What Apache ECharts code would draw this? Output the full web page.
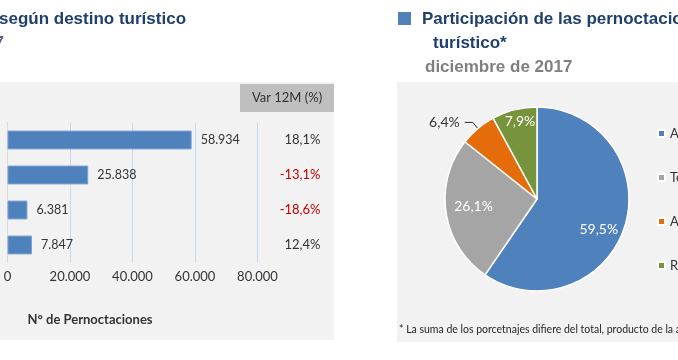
<!DOCTYPE html>
<html><head><meta charset="utf-8">
<script src="https://cdn.jsdelivr.net/npm/echarts@6/dist/echarts.min.js"></script>
<style>html,body{margin:0;padding:0;background:#fff}#c{width:678px;height:360px}</style>
</head><body><div id="c"></div>
<script>
// ---- data ----
const destinos = ["Araucanía Lacustre", "Temuco", "Araucanía Andina", "Resto de la región"];
const pernoctaciones = [58934, 25838, 6381, 7847];
const var12m = [18.1, -13.1, -18.6, 12.4];
const xTicks = [0, 20000, 40000, 60000, 80000];
const participacion = [59.5, 26.1, 6.4, 7.9];
const pieColors = ["#4f81bd", "#a5a5a5", "#e46c0a", "#77933c"];

const NUM_FONT = "Lato, 'Open Sans', sans-serif";
const TITLE_FONT = "'Liberation Sans', Arial, sans-serif";
const fmtThousands = v => String(v).replace(/\B(?=(\d{3})+(?!\d))/g, ".");
const fmtPct = v => v.toFixed(1).replace(".", ",") + "%";

const chart = echarts.init(document.getElementById("c"), null, {renderer: "canvas"});

// per-slice label tweaks (style only)
const pieLabelStyle = [
  {position: "inside", offset: [15, 16]},
  {position: "inside", offset: [-15, 0]},
  {position: "outside", color: "#333333", offset: [0, 0]},
  {position: "inside", offset: [-5, -30]}
];

const option = {
  animation: false,
  backgroundColor: "#ffffff",
  graphic: [
    // panels
    {type: "rect", left: 0, top: 82, shape: {width: 334, height: 258}, style: {fill: "#f2f2f2"}, z: -10},
    {type: "rect", left: 397, top: 82, shape: {width: 290, height: 260}, style: {fill: "#f2f2f2"}, z: -10},
    {type: "rect", left: 240, top: 84, shape: {width: 94, height: 28}, style: {fill: "#bfbfbf"}, z: -5},
    {type: "text", x: 287, y: 98, style: {text: "Var 12M (%)", font: "13px " + NUM_FONT, fill: "#333333", align: "center", verticalAlign: "middle"}},
    // left titles
    {type: "text", x: -1, y: 19, style: {text: "según destino turístico", font: "bold 17px " + TITLE_FONT, fill: "#1f3f6e", verticalAlign: "middle"}},
    {type: "text", x: 4, y: 43, style: {text: "diciembre de 2017", font: "bold 17px " + TITLE_FONT, fill: "#5a6478", align: "right", verticalAlign: "middle"}},
    {type: "text", x: 90, y: 320, style: {text: "N° de Pernoctaciones", font: "bold 13px " + NUM_FONT, fill: "#333333", align: "center", verticalAlign: "middle"}},
    // right titles
    {type: "rect", left: 398, top: 12, shape: {width: 13, height: 13}, style: {fill: "#4f81bd"}},
    {type: "text", x: 422, y: 19, style: {text: "Participación de las pernoctaciones según destino", font: "bold 17px " + TITLE_FONT, fill: "#1f3f6e", verticalAlign: "middle"}},
    {type: "text", x: 433, y: 43, style: {text: "turístico*", font: "bold 17px " + TITLE_FONT, fill: "#1f3f6e", verticalAlign: "middle"}},
    {type: "text", x: 425, y: 67, style: {text: "diciembre de 2017", font: "bold 17px " + TITLE_FONT, fill: "#7f7f7f", verticalAlign: "middle"}},
    {type: "text", x: 399, y: 330, style: {text: "* La suma de los porcetnajes difiere del total, producto de la aproximación de decimales", font: "10.5px " + NUM_FONT, fill: "#262626", verticalAlign: "middle"}}
  ],
  grid: [{left: 7.5, top: 122.5, width: 250, height: 140, containLabel: false}],
  xAxis: [{
    type: "value", min: xTicks[0], max: xTicks[xTicks.length - 1], interval: xTicks[1] - xTicks[0],
    axisLine: {show: false}, axisTick: {show: false},
    splitLine: {show: true, lineStyle: {color: "#c6d9f0", width: 1}},
    axisLabel: {margin: 8, color: "#333333", fontFamily: NUM_FONT, fontSize: 13, formatter: v => fmtThousands(v)}
  }],
  yAxis: [{
    type: "category", data: destinos, inverse: true,
    axisLine: {show: true, lineStyle: {color: "#d9d9d9"}}, axisTick: {show: false}, axisLabel: {show: false}
  }, {
    type: "category", data: var12m.map(fmtPct), inverse: true, position: "right",
    axisLine: {show: false}, axisTick: {show: false},
    axisLabel: {
      show: true, align: "right", margin: 63,
      formatter: (v, i) => (var12m[i] < 0 ? "{neg|" : "{pos|") + v + "}",
      rich: {
        neg: {color: "#c00000", fontFamily: NUM_FONT, fontSize: 13},
        pos: {color: "#333333", fontFamily: NUM_FONT, fontSize: 13}
      }
    }
  }],
  legend: {
    orient: "vertical", left: 657, top: 127, padding: 0, itemWidth: 7, itemHeight: 7, itemGap: 31,
    icon: "rect", data: destinos,
    textStyle: {color: "#333333", fontFamily: NUM_FONT, fontSize: 13}
  },
  series: [{
    type: "bar", xAxisIndex: 0, yAxisIndex: 0, data: pernoctaciones, barCategoryGap: "46%",
    itemStyle: {color: "#4f81bd", borderColor: "#7fa2d2", borderWidth: 1},
    label: {show: true, position: "right", distance: 9, color: "#333333", fontFamily: NUM_FONT, fontSize: 12.5, formatter: p => fmtThousands(p.value)},
    silent: true
  }, {
    type: "pie", center: [537, 199], radius: 92, startAngle: 90, clockwise: true,
    avoidLabelOverlap: false,
    itemStyle: {borderColor: "#ffffff", borderWidth: 1.5},
    label: {color: "#ffffff", fontFamily: NUM_FONT, fontSize: 14, formatter: p => fmtPct(p.value)},
    labelLine: {show: true, length: 8, length2: 8, lineStyle: {color: "#262626", width: 1}},
    data: participacion.map((v, i) => ({
      name: destinos[i], value: v,
      itemStyle: {color: pieColors[i]},
      label: pieLabelStyle[i],
      labelLine: {show: pieLabelStyle[i].position === "outside"}
    }))
  }]
};
chart.setOption(option);
</script></body></html>
